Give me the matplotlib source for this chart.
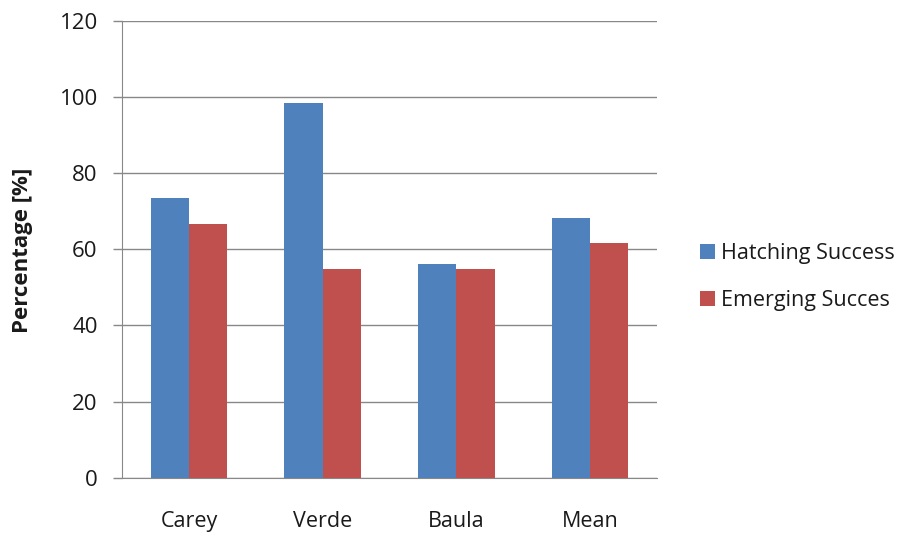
import matplotlib
matplotlib.use("Agg")
import matplotlib.pyplot as plt
import numpy as np

categories = ["Carey", "Verde", "Baula", "Mean"]
hatching = [73.4, 98.3, 56.2, 68.3]
emerging = [66.5, 54.9, 54.9, 61.6]
series_names = ["Hatching Success", "Emerging Succes"]
yticks = [0, 20, 40, 60, 80, 100, 120]

plt.rcParams["font.family"] = ["Open Sans", "DejaVu Sans"]

W, H = 909, 538
fig = plt.figure(figsize=(W / 100, H / 100), dpi=100)
ax = fig.add_axes([122 / W, 1 - 477.7 / H, (657 - 122) / W, (477.7 - 20.7) / H])

x = np.arange(len(categories))
w = 1 / 3.5
ax.bar(x - w / 2, hatching, width=w, color="#4F81BD", label=series_names[0], zorder=3)
ax.bar(x + w / 2, emerging, width=w, color="#C0504D", label=series_names[1], zorder=3)

ax.set_xlim(-0.5, len(categories) - 0.5)
ax.set_ylim(0, 120)
ax.set_yticks(yticks)
ax.set_xticks(x)
ax.set_xticklabels(categories, fontsize=15.5, color="#1a1a1a")
ax.tick_params(axis="y", labelsize=16, labelcolor="#1a1a1a", length=6.5, width=1,
               color="#888888", direction="out", pad=11)
ax.tick_params(axis="x", length=0, pad=24)
ax.yaxis.grid(True, color="#888888", linewidth=1, zorder=0)

for side in ["top", "right"]:
    ax.spines[side].set_visible(False)
ax.spines["left"].set_color("#888888")
ax.spines["bottom"].set_color("#888888")

ax.set_ylabel("Percentage [%]", fontsize=16, fontweight="bold", color="#1a1a1a")
ax.yaxis.set_label_coords(33 / W, 1 - 250 / H, transform=fig.transFigure)

ax.legend(loc="center left", bbox_to_anchor=(681 / W, 1 - 277 / H),
          bbox_transform=fig.transFigure, frameon=False,
          fontsize=15.5, handlelength=0.68, handleheight=0.68, labelspacing=1.22,
          handletextpad=0.3, labelcolor="#1a1a1a")

fig.savefig("out.png", dpi=100)
